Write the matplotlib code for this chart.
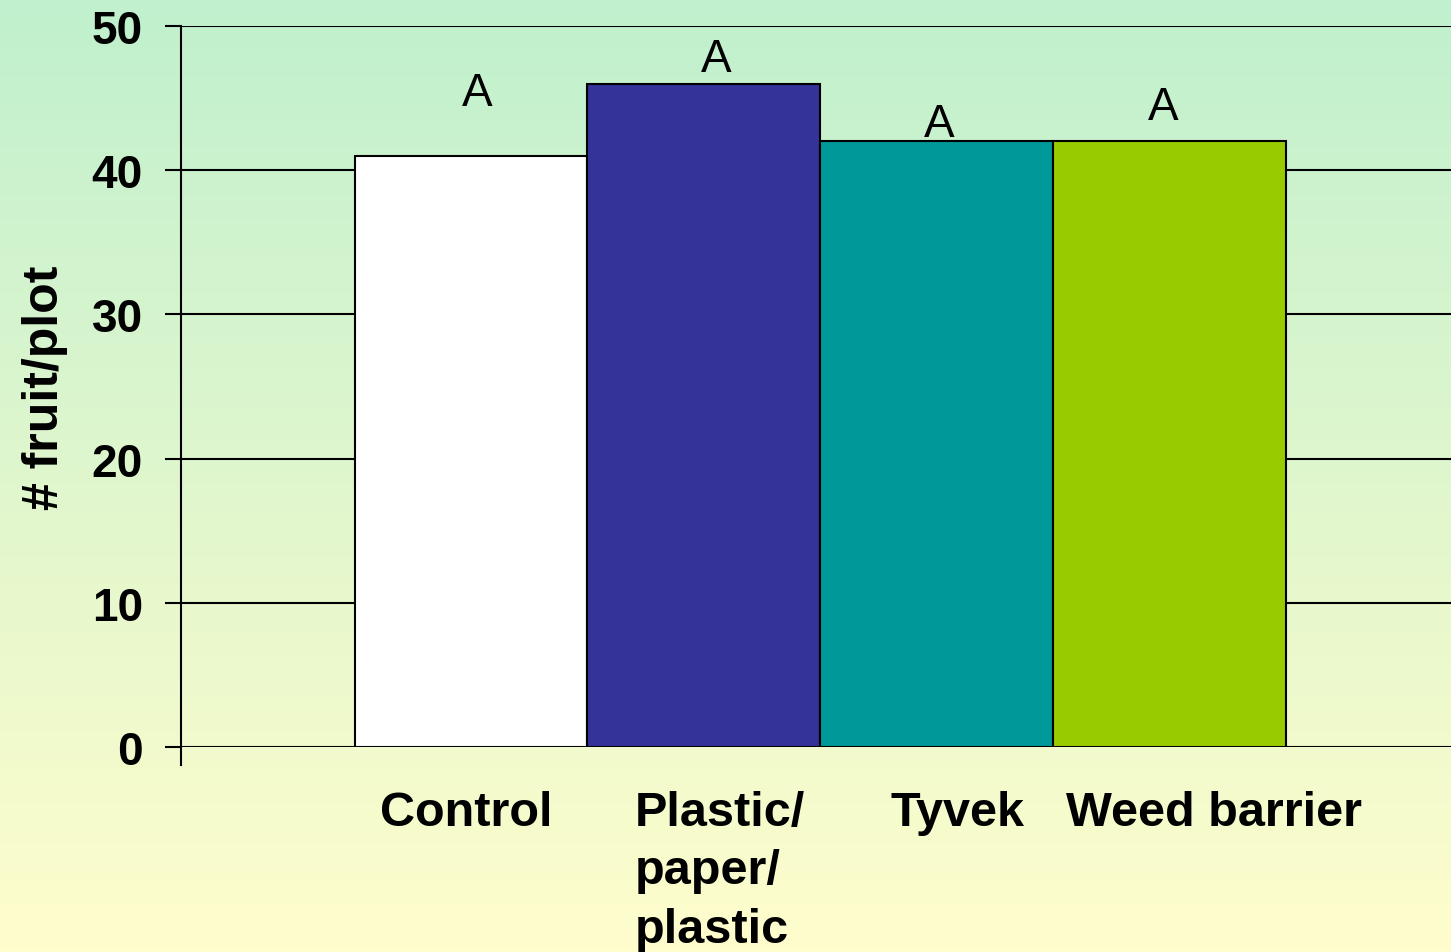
import matplotlib.pyplot as plt
import numpy as np

categories = ['Control', 'Plastic/\npaper/\nplastic', 'Tyvek', 'Weed barrier']
fruit = [41, 46, 42, 42]
bar_colors = ['#FFFFFF', '#333399', '#009999', '#99CC00']
letters = ['A', 'A', 'A', 'A']
letter_x = [0.025, 1.051, 2.012, 2.974]      # letter centres
letter_y = [44.55, 46.85, 42.35, 43.55]      # where the letters sit (baseline)
label_x = [-0.02, 1.07, 2.09, 3.19]          # category label centres
yticks = [0, 10, 20, 30, 40, 50]

plt.rcParams['font.family'] = ['Liberation Sans', 'DejaVu Sans']

fig = plt.figure(figsize=(14.51, 9.53), dpi=100)

# green -> yellow background
bg = fig.add_axes([0, 0, 1, 1], zorder=-10)
top = np.array([192, 240, 206]) / 255
bot = np.array([255, 253, 204]) / 255
t = np.linspace(0, 1, 256)[:, None]
grad = (top * (1 - t) + bot * t)[:, None, :]
bg.imshow(grad, aspect='auto', extent=[0, 1, 0, 1], origin='upper')
bg.axis('off')

ax = fig.add_axes([181 / 1451, 1 - 748 / 953, 1 - 181 / 1451, (748 - 27) / 953])
ax.patch.set_alpha(0)

x = np.arange(len(fruit))
ax.bar(x, fruit, width=1.0, color=bar_colors, edgecolor='black', linewidth=1.5, zorder=3)

for lx, ly, lt in zip(letter_x, letter_y, letters):
    ax.text(lx, ly, lt, ha='center', va='baseline', fontsize=33, zorder=4)

ax.set_xlim(-1.245, 4.208)
ax.set_ylim(0, 50)
ax.set_yticks(yticks)
ax.set_yticklabels([str(v) for v in yticks], fontsize=33, fontweight='bold')
ax.tick_params(axis='y', direction='out', length=11.5, width=1.5, pad=16)
ax.set_xticks([])
ax.grid(axis='y', color='black', linewidth=1.5, zorder=0)
ax.set_axisbelow(True)
for s in ['top', 'right', 'bottom']:
    ax.spines[s].set_visible(False)
ax.spines['left'].set_linewidth(1.5)
ax.plot([0, 0], [0, -0.025], transform=ax.transAxes, color='black', lw=1.5, clip_on=False)

for lx, cat in zip(label_x, categories):
    ax.text(lx, -2.95, cat, ha='center', va='top', fontsize=35, fontweight='bold',
            multialignment='left', linespacing=1.39)

ax.set_ylabel('# fruit/plot', fontsize=36, fontweight='bold')
ax.yaxis.set_label_coords(-0.089, 0.499)

fig.savefig('out.png', dpi=100)
